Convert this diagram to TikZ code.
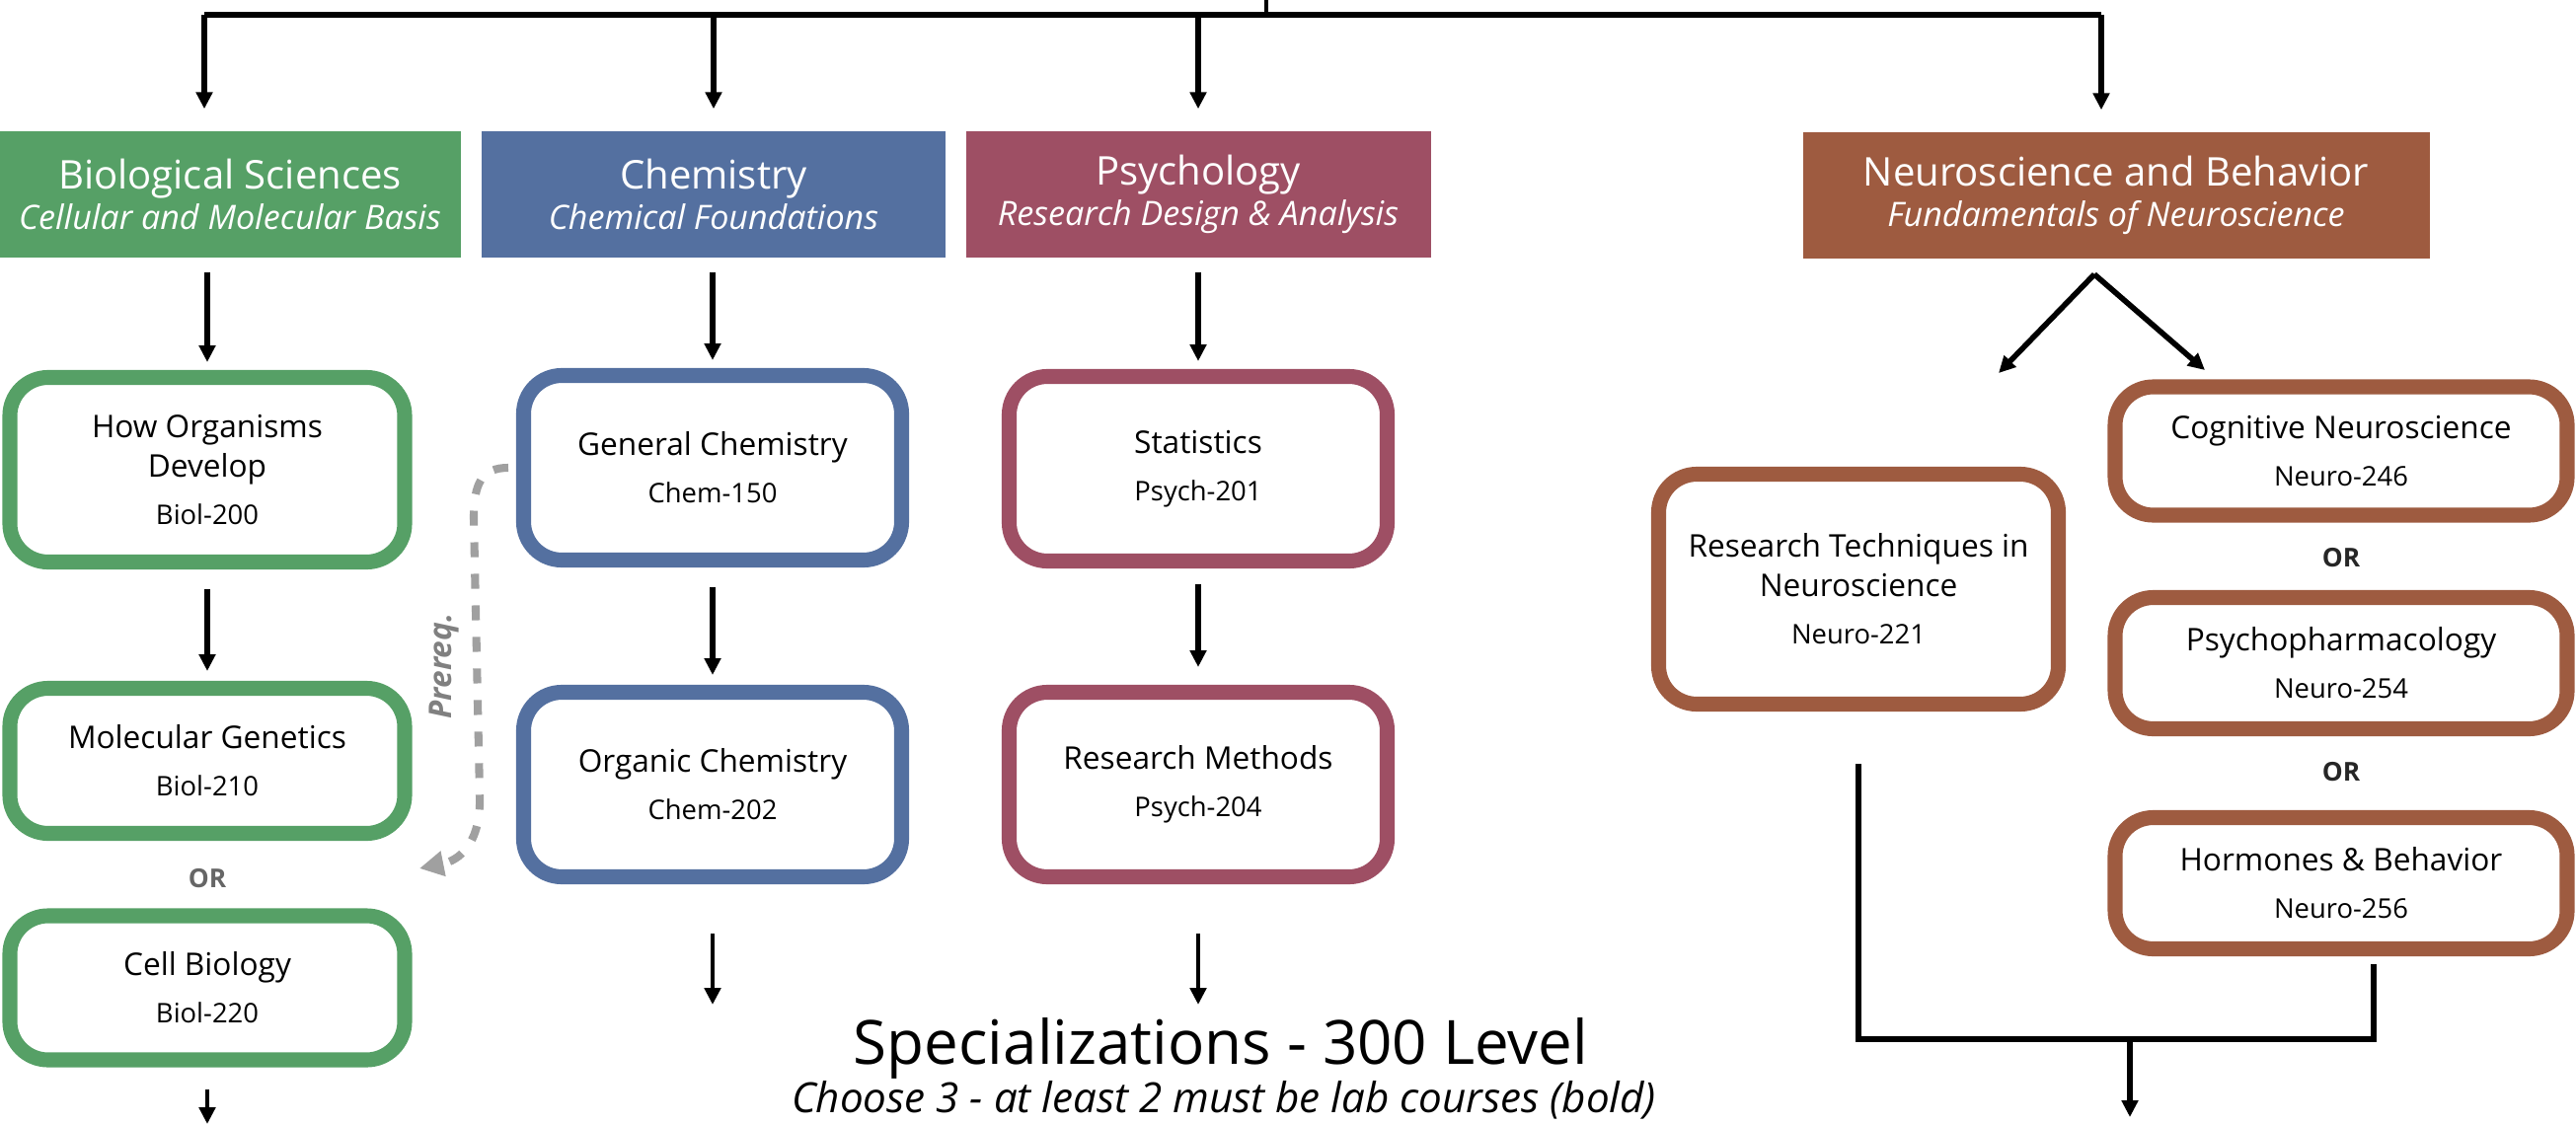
\documentclass[tikz,border=0pt]{standalone}
\usepackage{fontspec}
\setmainfont{Open Sans}
\usetikzlibrary{arrows.meta}
\definecolor{biogreen}{HTML}{56A066}
\definecolor{chemblue}{HTML}{5470A0}
\definecolor{psychred}{HTML}{9E4F64}
\definecolor{neurobrown}{HTML}{9E5B40}
\definecolor{prqgray}{HTML}{A0A0A0}
\newcommand{\hdsize}{\fontsize{11.4pt}{11.7pt}\selectfont}
\newcommand{\sbsize}{\fontsize{9.7pt}{11.7pt}\selectfont}
\newcommand{\crsize}{\fontsize{9pt}{11.4pt}\selectfont}
\newcommand{\cdsize}{\fontsize{7.8pt}{11.4pt}\selectfont}
\begin{document}
\begin{tikzpicture}[x=0.1mm,y=-0.1mm,
    arr/.style={-{Triangle[length=4.8pt,width=4.6pt]},line width=1.6pt},
    bus/.style={line width=1.8pt},
    hdr/.style={fill=#1,text=white,font=\hdsize,align=center,inner sep=0pt,minimum height=12.8mm},
    course/.style={draw=#1,fill=white,line width=4.3pt,rounded corners=11pt,font=\crsize,align=center,inner sep=0pt},
    ortext/.style={font=\fontsize{7.5pt}{9pt}\selectfont\bfseries,text=#1},
    prq/.style={draw=prqgray,line width=2.3pt,dash pattern=on 4.3pt off 4.8pt,-{Triangle[length=7pt,width=7pt]}}]
  \useasboundingbox (0,0) rectangle (2610,1139);
  % department headers
  \node[hdr=biogreen,minimum width=46.7mm] (bioH) at (233,197) {Biological Sciences\\{\sbsize\itshape Cellular and Molecular Basis}};
  \node[hdr=chemblue,minimum width=47mm] (chemH) at (723,197) {Chemistry\\{\sbsize\itshape Chemical Foundations}};
  \node[hdr=psychred,minimum width=47.1mm] (psyH) at (1214,197) {Psychology\\{\sbsize\itshape Research Design \& Analysis}};
  \node[hdr=neurobrown,minimum width=63.5mm] (neuH) at (2144,198) {Neuroscience and Behavior\\{\sbsize\itshape Fundamentals of Neuroscience}};
  % biology
  \node[course=biogreen,minimum width=40mm,minimum height=18.7mm] (bio1) at (210,476) {How Organisms\\Develop\\[2.3pt]{\cdsize Biol-200}};
  \node[course=biogreen,minimum width=40mm,minimum height=14.7mm] (bio2) at (210,771) {Molecular Genetics\\[2.3pt]{\cdsize Biol-210}};
  \node[ortext=black!60] (or1) at (210,890) {OR};
  \node[course=biogreen,minimum width=40mm,minimum height=14.6mm] (bio3) at (210,1001) {Cell Biology\\[2.3pt]{\cdsize Biol-220}};
  % chemistry
  \node[course=chemblue,minimum width=38.3mm,minimum height=18.7mm] (chem1) at (722,474) {General Chemistry\\[2.3pt]{\cdsize Chem-150}};
  \node[course=chemblue,minimum width=38.3mm,minimum height=18.7mm] (chem2) at (722,795) {Organic Chemistry\\[2.3pt]{\cdsize Chem-202}};
  % psychology
  \node[course=psychred,minimum width=38.3mm,minimum height=18.7mm] (psy1) at (1214,475) {Statistics\\[2.3pt]{\cdsize Psych-201}};
  \node[course=psychred,minimum width=38.3mm,minimum height=18.7mm] (psy2) at (1214,795) {Research Methods\\[2.3pt]{\cdsize Psych-204}};
  % neuroscience
  \node[course=neurobrown,minimum width=40.5mm,minimum height=23.3mm] (neu1) at (1883,597) {Research Techniques in\\Neuroscience\\[2.3pt]{\cdsize Neuro-221}};
  \node[course=neurobrown,minimum width=45.8mm,minimum height=13mm] (cog) at (2372,457) {Cognitive Neuroscience\\[2.3pt]{\cdsize Neuro-246}};
  \node[ortext=black!85] (or2) at (2372,565) {OR};
  \node[course=neurobrown,minimum width=45.8mm,minimum height=13.3mm] (pharm) at (2372,672) {Psychopharmacology\\[2.3pt]{\cdsize Neuro-254}};
  \node[ortext=black!85] (or3) at (2372,782) {OR};
  \node[course=neurobrown,minimum width=45.8mm,minimum height=13.3mm] (horm) at (2372,895) {Hormones \& Behavior\\[2.3pt]{\cdsize Neuro-256}};
  % 300 level
  \node[font=\fontsize{17.6pt}{20pt}\selectfont,anchor=base] (spec) at (1237,1078) {Specializations - 300 Level};
  \node[font=\fontsize{12pt}{14pt}\selectfont\itshape,anchor=base] (choose) at (1240,1127) {Choose 3 - at least 2 must be lab courses (bold)};
  % top bus
  \coordinate (top) at (1283,0);
  \coordinate (busL) at (207,15);
  \coordinate (busR) at (2129,15);
  \draw[bus] (busL) -- (busR);
  \draw[line width=1pt] (top) -- (top |- busL);
  \draw[arr,shorten >=2.2mm] (busL) -- (busL |- bioH.north);
  \draw[arr,shorten >=2.2mm] (chemH.north |- busL) -- (chemH.north);
  \draw[arr,shorten >=2.2mm] (psyH.north |- busL) -- (psyH.north);
  \draw[arr,shorten >=2.2mm] (busR) -- (busR |- neuH.north);
  % into the columns
  \draw[arr,shorten <=1.4mm,shorten >=0.8mm] (bio1 |- bioH.south) -- (bio1.north);
  \draw[arr,shorten <=1.4mm,shorten >=0.8mm] (chem1 |- chemH.south) -- (chem1.north);
  \draw[arr,shorten <=1.4mm,shorten >=0.8mm] (psy1 |- psyH.south) -- (psy1.north);
  \draw[arr,shorten <=2mm,shorten >=1mm] (bio1.south) -- (bio2.north);
  \draw[arr,shorten <=2mm,shorten >=1mm] (chem1.south) -- (chem2.north);
  \draw[arr,shorten <=1.6mm,shorten >=1.8mm] (psy1.south) -- (psy2.north);
  % out of the columns
  \coordinate (bioout) at (210,1139);
  \coordinate (chemout) at (722,1018);
  \coordinate (psyout) at (1214,1018);
  \draw[arr,line width=1.3pt,shorten <=2.2mm] (bio3.south) -- (bioout);
  \draw[arr,line width=1.3pt,shorten <=5mm] (chem2.south) -- (chemout);
  \draw[arr,line width=1.3pt,shorten <=5mm] (psy2.south) -- (psyout);
  % neuroscience fork and join
  \coordinate (fork) at (2122,278);
  \coordinate (forkL) at (2025,378);
  \coordinate (forkR) at (2234,375);
  \draw[arr] (fork) -- (forkL);
  \draw[arr] (fork) -- (forkR);
  \coordinate (join) at (2158,1053);
  \coordinate (hormfoot) at (2405,977);
  \coordinate (neuout) at (2158,1132);
  \draw[line width=1.7pt,shorten <=5.3mm] (neu1.south) |- (join) -| (hormfoot);
  \draw[arr] (join) -- (neuout);
  % prerequisite
  \coordinate (prqend) at (425,880);
  \draw[prq,shorten <=0.8mm] (chem1.west) .. controls (488,474) and (480,490) .. (480,525) -- (486,805) .. controls (488,855) and (465,872) .. (prqend);
  \node[rotate=90,text=black!50,font=\fontsize{9pt}{10pt}\selectfont\bfseries\itshape] (prqlbl) at (450,675) {Prereq.};
\end{tikzpicture}
\end{document}
